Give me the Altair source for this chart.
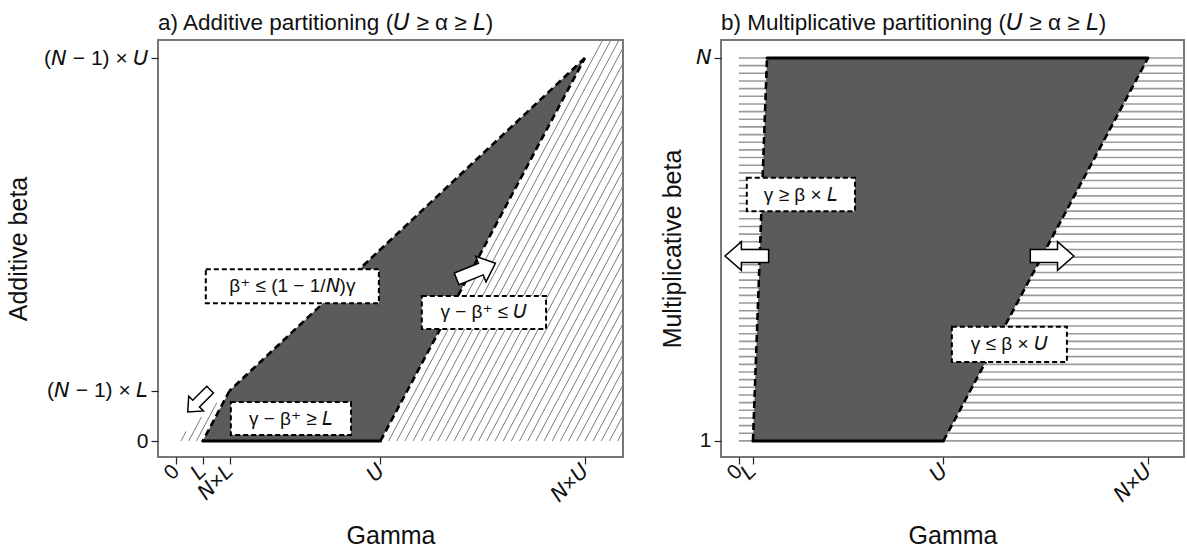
import altair as alt
import pandas as pd
import numpy as np

FONT = "Liberation Sans, DejaVu Sans, sans-serif"

# ---------------- Panel a : additive partitioning ----------------
a_xtick_vals = [0.0, 1.05, 2.1, 8.0, 16.0]
a_xtick_text = ["0", "𝘓", "𝘕×𝘓", "𝘜", "𝘕×𝘜"]
a_ytick_vals = [0.0, 1.05, 8.0]
a_ytick_text = ["0", "(𝘕 − 1) × 𝘓", "(𝘕 − 1) × 𝘜"]
a_xdom = [-0.70, 17.49]
a_ydom = [-0.334, 8.376]

# feasible region (x-monotone: lower/upper boundary at breakpoints)
a_area_gamma = [1.05, 2.1, 8.0, 16.0]
a_area_lo = [0.0, 0.0, 0.0, 8.0]
a_area_hi = [0.0, 1.05, 4.0, 8.0]

# region edges
a_edge_x = [1.05, 8.0, 16.0, 2.1]
a_edge_y = [0.0, 0.0, 8.0, 1.05]
a_edge_x2 = [8.0, 16.0, 2.1, 1.05]
a_edge_y2 = [0.0, 8.0, 1.05, 0.0]
a_edge_style = ["solid", "dash", "dash", "dash"]

# constraint labels
a_box_text = ["β⁺ ≤ (1 − 1/𝘕)γ", "γ − β⁺ ≤ 𝘜", "γ − β⁺ ≥ 𝘓"]
a_box_x = [1.17, 9.62, 2.15]
a_box_x2 = [7.94, 14.48, 6.85]
a_box_y = [2.88, 2.34, 0.125]
a_box_y2 = [3.59, 3.03, 0.815]

# arrows
a_arrow_x = [11.74, 0.9]
a_arrow_y = [3.55, 0.84]
a_arrow_angle = [338, 135]
a_arrow_size = [1750, 1000]

# hatch offsets (gamma - beta = c)
a_hatch_step = 0.32
a_hatch_left = [0.2, 0.5, 0.8]

# ---------------- Panel b : multiplicative partitioning ----------------
b_xtick_vals = [0.0, 0.55, 8.0, 16.0]
b_xtick_text = ["0", "𝘓", "𝘜", "𝘕×𝘜"]
b_ytick_vals = [1.0, 2.0]
b_ytick_text = ["1", "𝘕"]
b_xdom = [-0.70, 17.41]
b_ydom = [0.958, 2.047]

b_area_beta = [1.0, 2.0]
b_area_left = [0.55, 1.1]
b_area_right = [8.0, 16.0]

b_edge_x = [0.55, 1.1, 0.55, 8.0]
b_edge_y = [1.0, 2.0, 1.0, 1.0]
b_edge_x2 = [8.0, 16.0, 1.1, 16.0]
b_edge_y2 = [1.0, 2.0, 2.0, 2.0]
b_edge_style = ["solid", "solid", "dash", "dash"]

b_box_text = ["γ ≥ β × 𝘓", "γ ≤ β × 𝘜"]
b_box_x = [0.31, 8.33]
b_box_x2 = [4.54, 12.83]
b_box_y = [1.60, 1.206]
b_box_y2 = [1.687, 1.298]

b_arrow_x = [0.31, 12.25]
b_arrow_y = [1.483, 1.483]
b_arrow_angle = [180, 0]
b_arrow_size = [1900, 1900]

b_hatch_step = 0.02

ARROW = "M -1 -0.3 L 0.25 -0.3 L 0.25 -0.66 L 1 0 L 0.25 0.66 L 0.25 0.3 L -1 0.3 Z"
DARK = "#5b5b5b"


def label_expr(vals, texts):
    expr = "''"
    for v, t in reversed(list(zip(vals, texts))):
        expr = f"abs(datum.value - ({v})) < 1e-6 ? '{t}' : {expr}"
    return expr


def build_panel(xdom, ydom, xvals, xtext, yvals, ytext, ytitle, ytitlepad,
                hatch, hatch_style, area, area_kind, edges, boxes, arrows, title, w, h):
    xs = alt.Scale(domain=xdom, nice=False, zero=False)
    ys = alt.Scale(domain=ydom, nice=False, zero=False)
    xaxis = alt.Axis(values=xvals, labelExpr=label_expr(xvals, xtext), title="Gamma",
                     labelAngle=315, labelAlign="right", labelBaseline="middle",
                     labelPadding=4, titlePadding=18, labelOverlap=False, labelBound=False,
                     labelFlush=False)
    yaxis = alt.Axis(values=yvals, labelExpr=label_expr(yvals, ytext), title=ytitle,
                     labelPadding=3, titlePadding=ytitlepad, labelOverlap=False,
                     labelBound=False, labelFlush=False)

    def X(f):
        return alt.X(f, type="quantitative", scale=xs, axis=xaxis)

    def Y(f):
        return alt.Y(f, type="quantitative", scale=ys, axis=yaxis)

    hatch_layer = alt.Chart(hatch).mark_rule(clip=True, **hatch_style).encode(
        x=X("x"), y=Y("y"), x2="x2:Q", y2="y2:Q")
    if area_kind == "vertical":
        area_layer = alt.Chart(area).mark_area(color=DARK, opacity=1, clip=True).encode(
            x=X("p"), y=Y("lo"), y2="hi:Q")
    else:
        area_layer = alt.Chart(area).mark_area(color=DARK, opacity=1, clip=True,
                                               orient="horizontal").encode(
            y=Y("p"), x=X("lo"), x2="hi:Q")
    solid = alt.Chart(edges).transform_filter("datum.style == 'solid'").mark_rule(
        color="black", strokeWidth=3, strokeCap="round").encode(
        x=X("x"), y=Y("y"), x2="x2:Q", y2="y2:Q")
    dashed = alt.Chart(edges).transform_filter("datum.style == 'dash'").mark_rule(
        color="black", strokeWidth=2.6, strokeDash=[7, 4]).encode(
        x=X("x"), y=Y("y"), x2="x2:Q", y2="y2:Q")
    box = alt.Chart(boxes).mark_rect(fill="white", stroke="black", strokeWidth=2,
                                     strokeDash=[5, 3]).encode(
        x=X("x"), y=Y("y"), x2="x2:Q", y2="y2:Q")
    txt = alt.Chart(boxes).transform_calculate(
        cx="(datum.x + datum.x2) / 2", cy="(datum.y + datum.y2) / 2").mark_text(
        font=FONT, fontSize=19, color="#111", align="center", baseline="middle").encode(
        x=X("cx"), y=Y("cy"), text="text:N")
    arr = alt.Chart(arrows).mark_point(shape=ARROW, filled=True, fill="white", stroke="black",
                                       strokeWidth=1.5, opacity=1).encode(
        x=X("x"), y=Y("y"),
        angle=alt.Angle("angle:Q", scale=None), size=alt.Size("size:Q", scale=None, legend=None))
    return alt.layer(hatch_layer, area_layer, solid, dashed, box, txt, arr).properties(
        width=w, height=h, title=alt.Title(title, frame="group", anchor="start"))


# ---- panel a data ----
a_top = a_ydom[1]
cs = np.arange(a_edge_x2[0] + a_hatch_step, a_xdom[1], a_hatch_step)
a_hatch = pd.DataFrame({
    "x": list(cs) + a_hatch_left,
    "y": [0.0] * len(cs) + [0.0] * len(a_hatch_left),
    "x2": list(cs + a_top) + [2 * c for c in a_hatch_left],
    "y2": [a_top] * len(cs) + list(a_hatch_left),
})
a_area = pd.DataFrame({"p": a_area_gamma, "lo": a_area_lo, "hi": a_area_hi})
a_edges = pd.DataFrame({"x": a_edge_x, "y": a_edge_y, "x2": a_edge_x2, "y2": a_edge_y2, "style": a_edge_style})
a_boxes = pd.DataFrame({"text": a_box_text, "x": a_box_x, "x2": a_box_x2, "y": a_box_y, "y2": a_box_y2})
a_arrows = pd.DataFrame({"x": a_arrow_x, "y": a_arrow_y, "angle": a_arrow_angle, "size": a_arrow_size})

panel_a = build_panel(a_xdom, a_ydom, a_xtick_vals, a_xtick_text, a_ytick_vals, a_ytick_text,
                      "Additive beta", 12,
                      a_hatch, dict(color="#7a7a7a", strokeWidth=1),
                      a_area, "vertical", a_edges, a_boxes, a_arrows,
                      "a) Additive partitioning (𝘜 ≥ α ≥ 𝘓)", 465, 417)

# ---- panel b data ----
bs = 1.0 + b_hatch_step * np.arange(0, 51)
b_hatch = pd.DataFrame({"x": [0.0] * len(bs), "y": bs, "x2": [b_xdom[1]] * len(bs), "y2": bs})
b_area = pd.DataFrame({"p": b_area_beta, "lo": b_area_left, "hi": b_area_right})
b_edges = pd.DataFrame({"x": b_edge_x, "y": b_edge_y, "x2": b_edge_x2, "y2": b_edge_y2, "style": b_edge_style})
b_boxes = pd.DataFrame({"text": b_box_text, "x": b_box_x, "x2": b_box_x2, "y": b_box_y, "y2": b_box_y2})
b_arrows = pd.DataFrame({"x": b_arrow_x, "y": b_arrow_y, "angle": b_arrow_angle, "size": b_arrow_size})

panel_b = build_panel(b_xdom, b_ydom, b_xtick_vals, b_xtick_text, b_ytick_vals, b_ytick_text,
                      "Multiplicative beta", 10,
                      b_hatch, dict(color="#9a9a9a", strokeWidth=1.6),
                      b_area, "horizontal", b_edges, b_boxes, b_arrows,
                      "b) Multiplicative partitioning (𝘜 ≥ α ≥ 𝘓)", 463, 417)

chart = alt.hconcat(panel_a, panel_b, spacing=35).properties(
    padding={"left": 5, "top": 10, "right": 0, "bottom": 0}
).configure_view(stroke="#777", strokeWidth=2).configure_axis(
    labelFont=FONT, titleFont=FONT, labelFontSize=21, titleFontSize=25,
    titleFontWeight="normal", domain=False, grid=False, tickColor="#222",
    tickSize=7, tickWidth=1.2, labelColor="#111", titleColor="#111",
).configure_title(font=FONT, fontSize=22.5, fontWeight="normal", anchor="start",
                  offset=6, color="#111")

chart.save("out.html", embed_options={"renderer": "svg", "actions": False})
